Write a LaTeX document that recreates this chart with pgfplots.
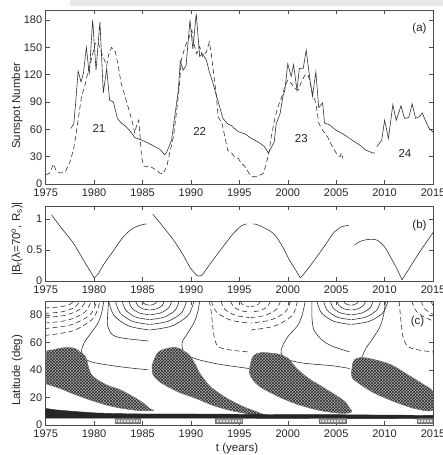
\documentclass[border=0pt]{standalone}
\usepackage{fontspec}
\setmainfont{Liberation Sans}
\usepackage{pgfplots}
\pgfplotsset{compat=1.18}
\usetikzlibrary{patterns}

\pgfplotsset{
  mystyle/.style={
    scale only axis, width=387.3pt,
    xmin=1975, xmax=2015,
    xtick={1975,1980,...,2015},
    /pgf/number format/1000 sep={},
    /pgf/number format/assume math mode=true,
    tick align=inside,
    major tick length=4pt,
    tick style={black!70, line width=0.5pt},
    axis line style={black!70, line width=0.6pt},
    tick label style={font=\fontsize{11}{13}\selectfont, text=black!85},
    label style={font=\fontsize{11.5}{13}\selectfont, text=black!85},
    xticklabel style={yshift=-1pt},
    anchor=north west, clip=true,
  },
  ln/.style={black!80, line width=0.6pt},
  dl/.style={black!80, line width=0.6pt, dash pattern=on 5pt off 3pt},
  wing/.style={draw=black!50, line width=0.4pt, fill=black!32, postaction={pattern=crosshatch, pattern color=black!85}},
}

\begin{document}
\begin{tikzpicture}
\fill[black!9] (70pt,0pt) rectangle (443pt,-6pt);

% ---------------- panel (a)
\begin{axis}[mystyle, at={(45.7pt,-10pt)}, height=174pt,
  ymin=0, ymax=191, ytick={0,30,...,180},
  ylabel={Sunspot Number},
  ylabel style={at={(axis description cs:-0.074,0.45)}, anchor=center}]
\addplot[ln] coordinates {
(1977.6,61)(1977.9,66)(1978.1,90)(1978.35,124)(1978.65,112)(1978.9,122)(1979.2,150)(1979.5,120)
(1979.85,180)(1980.2,125)(1980.6,178)(1980.95,100)(1981.3,127)(1981.6,92)(1982.0,90)(1982.4,72)
(1982.8,67)(1983.3,63)(1983.8,57)(1984.2,51)(1984.7,49)(1985.4,46)(1986.1,42)(1986.8,38)(1987.3,32)
(1987.5,35)(1988.0,48)(1988.3,72)(1988.7,103)(1988.9,135)(1989.2,125)(1989.5,130)(1989.9,180)
(1990.2,148)(1990.55,187)(1990.9,140)(1991.2,143)(1991.6,136)(1991.9,123)(1992.3,110)(1992.6,98)
(1992.96,85)(1993.3,72)(1993.8,66)(1994.2,64)(1994.7,59)(1995.0,57)(1995.6,55)(1996.1,51)(1996.6,48)
(1997.1,45)(1997.6,41)(1998.0,34)(1998.3,40)(1998.6,46)(1998.8,66)(1999.2,77)(1999.5,96)(1999.7,103)
(2000.0,132)(2000.35,118)(2000.6,131)(2000.95,103)(2001.2,127)(2001.6,127)(2001.9,147)(2002.3,114)
(2002.55,96)(2002.9,123)(2003.2,84)(2003.6,89)(2003.8,67)(2004.3,65)(2005.0,59)(2005.7,55)(2006.4,50)
(2006.8,47)(2007.4,43)(2008.1,37)(2008.8,34)(2009.0,34)};
\addplot[ln] coordinates {
(2009.2,41)(2009.7,48)(2010.0,70)(2010.4,50)(2010.85,87)(2011.2,70)(2011.7,86)(2012.05,72)(2012.5,73)
(2012.85,88)(2013.2,72)(2013.6,74)(2013.9,78)(2014.2,70)(2014.6,61)(2015.0,57)};
\addplot[dl] coordinates {
(1975.0,10)(1975.4,12)(1975.8,22)(1976.1,14)(1976.5,12)(1977.0,13)(1977.5,24)(1977.85,37)(1978.1,52)
(1978.4,74)(1978.7,96)(1979.1,110)(1979.4,125)(1979.7,136)(1980.1,154)(1980.4,156)(1980.8,143)
(1981.3,130)(1981.5,142)(1981.8,150)(1982.2,145)(1982.5,129)(1982.8,110)(1983.2,96)(1983.5,85)
(1983.9,70)(1984.2,56)(1984.4,65)(1984.6,70)(1984.75,52)(1984.9,30)(1985.1,20)(1985.4,19)(1985.7,20)
(1986.3,16)(1986.8,12)(1987.1,11)(1987.5,19)(1987.8,34)(1988.2,52)(1988.5,78)(1988.8,107)(1989.0,136)
(1989.4,151)(1989.7,158)(1990.1,169)(1990.3,154)(1990.6,143)(1990.9,151)(1991.2,140)(1991.6,145)
(1991.9,156)(1992.1,143)(1992.3,125)(1992.6,100)(1992.8,74)(1993.2,67)(1993.5,52)(1993.8,37)
(1994.2,34)(1994.5,30)(1994.9,28)(1995.2,23)(1995.6,19)(1996.1,10)(1996.4,8)(1996.9,8)(1997.5,12)
(1997.8,23)(1998.1,37)(1998.3,52)(1998.7,74)(1999.0,85)(1999.4,96)(1999.7,107)(2000.0,114)
(2000.4,110)(2000.7,105)(2001.1,103)(2001.4,112)(2001.8,120)(2002.1,120)(2002.4,107)(2002.6,98)
(2002.9,89)(2003.2,67)(2003.6,59)(2004.1,52)(2004.5,43)(2005.0,34)(2005.4,30)(2005.55,34)(2005.7,28)};
\node[font=\fontsize{11.5}{13}\selectfont, text=black!85] at (axis cs:1980.5,61) {21};
\node[font=\fontsize{11.5}{13}\selectfont, text=black!85] at (axis cs:1990.9,58) {22};
\node[font=\fontsize{11.5}{13}\selectfont, text=black!85] at (axis cs:2001.4,50) {23};
\node[font=\fontsize{11.5}{13}\selectfont, text=black!85] at (axis cs:2012.1,34) {24};
\node[font=\fontsize{11.5}{13}\selectfont, text=black!85] at (axis cs:2013.6,171) {(a)};
\end{axis}

% ---------------- panel (b)
\begin{axis}[mystyle, at={(45.7pt,-206pt)}, height=75pt,
  ymin=0, ymax=1.21, ytick={0,0.5,1},
  ylabel={|B\textsubscript{r}(λ=70\textsuperscript{o}, R\textsubscript{s})|},
  ylabel style={at={(axis description cs:-0.074,0.56)}, anchor=center}]
\addplot[ln, smooth] coordinates {
(1975.6,1.07)(1976.5,0.88)(1977.9,0.6)(1979.0,0.31)(1979.6,0.16)(1980.0,0.05)};
\addplot[ln, smooth] coordinates {
(1980.0,0.05)(1980.4,0.11)(1981.0,0.27)(1982.0,0.49)(1983.0,0.71)(1984.0,0.85)(1985.0,0.91)(1985.4,0.92)};
\addplot[ln, smooth] coordinates {
(1986.05,1.08)(1987.0,0.9)(1988.2,0.66)(1989.2,0.42)(1989.9,0.22)(1990.6,0.09)};
\addplot[ln, smooth] coordinates {
(1990.6,0.09)(1991.1,0.09)(1992.0,0.28)(1993.0,0.49)(1994.4,0.77)(1995.2,0.89)(1995.75,0.92)};
\addplot[ln, smooth] coordinates {
(1996.45,0.92)(1997.0,0.9)(1998.5,0.77)(1999.4,0.57)(2000.2,0.33)(2000.8,0.18)(2001.3,0.05)};
\addplot[ln, smooth] coordinates {
(2001.3,0.05)(2002.0,0.18)(2003.0,0.39)(2004.0,0.61)(2004.7,0.77)(2005.5,0.87)(2006.3,0.9)};
\addplot[ln, smooth] coordinates {
(2006.9,0.58)(2007.5,0.64)(2008.3,0.67)(2009.2,0.66)(2010.0,0.55)(2010.6,0.39)(2011.2,0.22)(2011.8,0.02)};
\addplot[ln, smooth] coordinates {
(2011.8,0.02)(2012.5,0.19)(2013.3,0.39)(2014.2,0.6)(2015.0,0.78)};
\node[font=\fontsize{11.5}{13}\selectfont, text=black!85] at (axis cs:2013.6,0.9) {(b)};
\end{axis}

% ---------------- panel (c)
\begin{axis}[mystyle, at={(45.7pt,-301pt)}, height=124pt,
  ymin=0, ymax=90, ytick={0,20,...,80},
  ylabel={Latitude (deg)},
  ylabel style={at={(axis description cs:-0.074,0.44)}, anchor=center},
  xlabel={t (years)},
  xlabel style={at={(axis description cs:0.494,-0.19)}, anchor=center}]
% solid bowls at 1985.7
\addplot[ln, smooth] coordinates {(1985.0,90)(1985.09,88.5)(1985.35,87.4)(1985.7,87)};
\addplot[ln, smooth] coordinates {(1984.3,90)(1984.49,86.75)(1985.0,84.37)(1985.7,83.5)};
\addplot[ln, smooth] coordinates {(1983.6,90)(1983.88,85)(1984.65,81.34)(1985.7,80)};
\addplot[ln, smooth] coordinates {(1982.9,90)(1983.28,83.25)(1984.3,78.31)(1985.7,76.5)};
\addplot[ln, smooth] coordinates {(1982.2,90)(1982.67,81.5)(1983.95,75.28)(1985.7,73)};
\addplot[ln, smooth] coordinates {(1981.5,90)(1982.06,79.5)(1983.6,71.81)(1985.7,69)};
\addplot[ln, smooth] coordinates {(1986.47,90)(1986.37,88.5)(1986.09,87.4)(1985.8,87)};
\addplot[ln, smooth] coordinates {(1987.24,90)(1987.03,86.75)(1986.47,84.37)(1985.8,83.5)};
\addplot[ln, smooth] coordinates {(1988.01,90)(1987.7,85)(1986.86,81.34)(1985.8,80)};
\addplot[ln, smooth] coordinates {(1988.78,90)(1988.37,83.25)(1987.24,78.31)(1985.8,76.5)};
\addplot[ln, smooth] coordinates {(1989.55,90)(1989.03,81.5)(1987.63,75.28)(1985.8,73)};
\addplot[ln, smooth] coordinates {(1990.32,90)(1989.7,79.5)(1988.01,71.81)(1985.8,69)};
% solid bowls at 2006.5
\addplot[ln, smooth] coordinates {(2005.8,90)(2005.89,88.5)(2006.15,87.4)(2006.5,87)};
\addplot[ln, smooth] coordinates {(2005.1,90)(2005.29,86.75)(2005.8,84.37)(2006.5,83.5)};
\addplot[ln, smooth] coordinates {(2004.4,90)(2004.68,85)(2005.45,81.34)(2006.5,80)};
\addplot[ln, smooth] coordinates {(2003.7,90)(2004.08,83.25)(2005.1,78.31)(2006.5,76.5)};
\addplot[ln, smooth] coordinates {(2003.0,90)(2003.47,81.5)(2004.75,75.28)(2006.5,73)};
\addplot[ln, smooth] coordinates {(2007.27,90)(2007.17,88.5)(2006.89,87.4)(2006.6,87)};
\addplot[ln, smooth] coordinates {(2008.04,90)(2007.83,86.75)(2007.27,84.37)(2006.6,83.5)};
\addplot[ln, smooth] coordinates {(2008.81,90)(2008.5,85)(2007.66,81.34)(2006.6,80)};
\addplot[ln, smooth] coordinates {(2009.58,90)(2009.17,83.25)(2008.04,78.31)(2006.6,76.5)};
\addplot[ln, smooth] coordinates {(2010.35,90)(2009.83,81.5)(2008.43,75.28)(2006.6,73)};
% dashed bowl at 1975
\addplot[dl, smooth] coordinates {(1974.9,85)(1976.4,85.67)(1977.5,87.5)(1977.9,90)};
\addplot[dl, smooth] coordinates {(1974.9,81)(1976.7,82.2)(1978.02,85.5)(1978.5,90)};
\addplot[dl, smooth] coordinates {(1974.9,78)(1977.0,79.6)(1978.54,84)(1979.1,90)};
\addplot[dl, smooth] coordinates {(1974.9,74)(1977.3,76.1)(1979.06,82)(1979.7,90)};
\addplot[dl, smooth] coordinates {(1974.9,70)(1977.6,72.7)(1979.58,80)(1980.3,90)};
\addplot[dl, smooth] coordinates {(1974.9,65)(1977.8,68.35)(1979.92,77.5)(1980.6,90)};
% dashed bowl at 1996.1
\addplot[dl, smooth] coordinates {(1995.1,90)(1995.23,88)(1995.6,86.54)(1996.0,86)};
\addplot[dl, smooth] coordinates {(1994.1,90)(1994.37,86)(1995.1,83.07)(1996.0,82)};
\addplot[dl, smooth] coordinates {(1993.1,90)(1993.5,84)(1994.6,79.6)(1996.0,78)};
\addplot[dl, smooth] coordinates {(1992.1,90)(1992.64,82)(1994.1,76.14)(1996.0,74)};
\addplot[dl, smooth] coordinates {(1997.15,90)(1997.01,88)(1996.63,86.54)(1996.2,86)};
\addplot[dl, smooth] coordinates {(1998.2,90)(1997.92,86)(1997.15,83.07)(1996.2,82)};
\addplot[dl, smooth] coordinates {(1999.25,90)(1998.83,84)(1997.68,79.6)(1996.2,78)};
\addplot[dl, smooth] coordinates {(2000.3,90)(1999.74,82)(1998.2,76.14)(1996.2,74)};
\addplot[dl, smooth] coordinates {(2001.0,90)(2000.46,79.5)(1998.62,71.8)(1996.2,69)};
% dashed bowl near 2016.8
\addplot[dl, smooth] coordinates {(2014.8,90)(2015.07,86)(2015.8,83.07)(2016.8,82)};
\addplot[dl, smooth] coordinates {(2013.8,90)(2014.2,84)(2015.3,79.6)(2016.8,78)};
\addplot[dl, smooth] coordinates {(2012.8,90)(2013.34,82)(2014.8,76.14)(2016.8,74)};
% reversal curves
\addplot[ln, smooth] coordinates {(1981.0,90)(1980.8,82)(1980.4,74)(1979.7,67)(1979.0,60)(1978.7,54)(1978.9,49)(1979.6,46)(1981,44)(1983,42)(1985.6,40)};
\addplot[ln, smooth] coordinates {(1990.9,90)(1990.7,82)(1990.3,74)(1989.6,66)(1989.1,60)(1989.2,54)(1989.8,50)(1991,47)(1993,44)(1996.0,41)};
\addplot[ln, smooth] coordinates {(2001.8,90)(2001.5,80)(2001.0,72)(2000.1,65)(1999.5,58)(1999.3,52.5)(1999.8,48)(2001.5,45)(2004.6,43)(2006.4,41)};
\addplot[ln, smooth] coordinates {(2010.1,90)(2009.9,80)(2009.5,71)(2008.8,63)(2008.1,56)(2007.7,50)(2007.4,44)};
\addplot[ln, smooth] coordinates {(1981.5,90)(1981.4,80)(1981.4,72)(1981.9,65.5)(1983,63)(1985.6,61)};
\addplot[ln, smooth] coordinates {(2002.5,90)(2002.5,78)(2002.7,69)(2003.5,62)(2004.5,57.5)(2006.4,53)};
\addplot[dl, smooth] coordinates {(1991.9,90)(1992.1,82)(1992.2,75)(1992.4,64)(1992.8,57)(1994,54.5)(1996,53)};
\addplot[dl, smooth] coordinates {(2011.5,90)(2011.6,82)(2011.7,75)(2011.9,64)(2012.4,57)(2013.5,54.5)(2015,53)};
% butterfly wings
\addplot[wing, smooth] coordinates {(1975,30)(1975,52)(1975.8,54.5)(1976.8,56)(1977.9,55.8)(1978.5,53.3)(1979.1,49.7)(1979.3,45)(1979.5,40)(1979.9,35)(1981.3,29)(1982.7,25.5)(1984.0,20.6)(1985.1,15.8)(1985.7,12)(1986.1,10.5)(1984.7,10.5)(1983.0,12)(1981.3,14.5)(1979.6,18.2)(1977.9,22.5)(1976.5,26.5)(1975,30)} -- cycle;
\addplot[wing, smooth] coordinates {(1986.0,43.6)(1986.3,49)(1986.7,53.3)(1987.7,55.8)(1988.7,55.8)(1989.8,51)(1990.2,47)(1990.6,42)(1990.9,37.6)(1992.0,27.9)(1993.7,19.4)(1995.4,13.3)(1997.0,9)(1997.8,6.5)(1996.5,7.5)(1995.6,8.5)(1993.9,10.9)(1992.2,14.5)(1990.5,19.4)(1988.7,24)(1987.0,30.3)(1986.1,36.4)(1986.0,43.6)} -- cycle;
\addplot[wing, smooth] coordinates {(1996.1,42.4)(1996.3,48)(1996.6,51)(1997.3,52.5)(1999.0,51.5)(2000.0,48.5)(2000.9,41.2)(2002.1,34)(2003.5,27.9)(2004.9,21.8)(2005.9,17)(2006.4,12)(2006.6,9.5)(2005.5,8.5)(2003.1,10.9)(2000.7,15.8)(1998.7,21.8)(1996.9,29)(1996.1,36.4)(1996.1,42.4)} -- cycle;
\addplot[wing, smooth] coordinates {(2006.6,38.8)(2006.7,44)(2006.9,47.3)(2007.6,49)(2009.0,47.3)(2010.7,43.6)(2012.4,36.4)(2013.8,30.3)(2015,24)(2015,10.9)(2013.1,12)(2011.0,17)(2009.0,23)(2007.6,29)(2006.7,34)(2006.6,38.8)} -- cycle;
% low-latitude band
\addplot[draw=black!85, fill=black!85] coordinates {(1975,12)(1976,11)(1978,9.8)(1980,8.8)(1982,8.3)(1985,8)(1990,8)(1995,7.8)(2000,7.5)(2005,7.5)(2010,7.2)(2015,7)(2015,4.5)(2010,4.6)(2000,4.8)(1990,5)(1980,5)(1975,5)} -- cycle;
% light boxes
\addplot[draw=black!55, fill=black!12, postaction={pattern=grid, pattern color=black!45}] coordinates {(1982.2,1.5)(1984.8,1.5)(1984.8,4.6)(1982.2,4.6)} -- cycle;
\addplot[draw=black!55, fill=black!12, postaction={pattern=grid, pattern color=black!45}] coordinates {(1992.5,1.5)(1995.3,1.5)(1995.3,4.6)(1992.5,4.6)} -- cycle;
\addplot[draw=black!55, fill=black!12, postaction={pattern=grid, pattern color=black!45}] coordinates {(2003.2,1.5)(2006.0,1.5)(2006.0,4.6)(2003.2,4.6)} -- cycle;
\addplot[draw=black!55, fill=black!12, postaction={pattern=grid, pattern color=black!45}] coordinates {(2013.4,1.5)(2015.0,1.5)(2015.0,4.6)(2013.4,4.6)} -- cycle;
\node[font=\fontsize{11.5}{13}\selectfont, text=black!85] at (axis cs:2013.4,75) {(c)};
\end{axis}

\pgfresetboundingbox
\path[use as bounding box] (0pt,0pt) rectangle (443pt,-455pt);
\end{tikzpicture}
\end{document}
